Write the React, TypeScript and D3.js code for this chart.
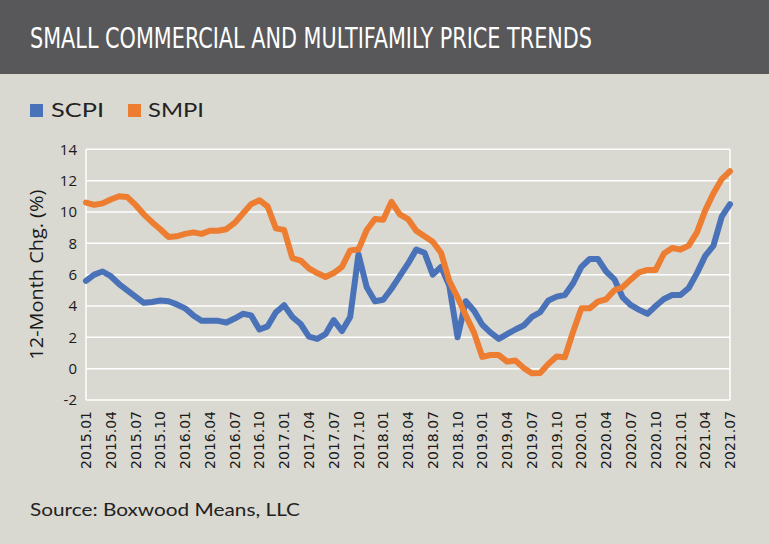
import React from "react";
import * as d3 from "d3";

const startYear = 2015;
const monthCount = 79;
const months: string[] = Array.from({ length: monthCount }, (_, i) => {
  const y = startYear + Math.floor(i / 12);
  const m = (i % 12) + 1;
  return `${y}.${m < 10 ? "0" + m : m}`;
});

const scpi: number[] = [
  5.6, 6.0, 6.2, 5.9, 5.4, 5.0, 4.6, 4.2, 4.25, 4.35, 4.3, 4.1,
  3.85, 3.4, 3.05, 3.05, 3.05, 2.95, 3.2, 3.5, 3.4, 2.5, 2.7, 3.6,
  4.05, 3.3, 2.85, 2.05, 1.9, 2.2, 3.1, 2.4, 3.3, 7.3, 5.2, 4.3,
  4.4, 5.1, 5.9, 6.7, 7.6, 7.4, 6.0, 6.5, 5.3, 2.0, 4.3, 3.7,
  2.8, 2.3, 1.9, 2.2, 2.5, 2.75, 3.3, 3.6, 4.35, 4.6, 4.7, 5.45,
  6.5, 7.0, 7.0, 6.2, 5.7, 4.55, 4.05, 3.75, 3.5, 4.0, 4.45, 4.7,
  4.7, 5.15, 6.1, 7.2, 7.85, 9.7, 10.5,
];

const smpi: number[] = [
  10.6, 10.45, 10.55, 10.8, 11.0, 10.95, 10.45, 9.85, 9.35, 8.9, 8.4, 8.45,
  8.6, 8.7, 8.6, 8.8, 8.8, 8.9, 9.3, 9.9, 10.5, 10.75, 10.35, 8.95,
  8.85, 7.05, 6.9, 6.4, 6.1, 5.85, 6.1, 6.5, 7.55, 7.6, 8.85, 9.55,
  9.5, 10.65, 9.85, 9.55, 8.8, 8.45, 8.1, 7.4, 5.6, 4.55, 3.4, 2.3,
  0.75, 0.87, 0.87, 0.45, 0.52, 0.05, -0.3, -0.28, 0.3, 0.77, 0.73, 2.36,
  3.85, 3.85, 4.28, 4.43, 5.0, 5.2, 5.7, 6.15, 6.3, 6.3, 7.35, 7.7,
  7.6, 7.85, 8.7, 10.1, 11.2, 12.1, 12.6,
];

const yTicks: number[] = [-2, 0, 2, 4, 6, 8, 10, 12, 14];
const seriesNames: string[] = ["SCPI", "SMPI"];
const seriesColors: string[] = ["#4a72b8", "#ed7d31"];

const W = 769;
const H = 544;
const BG = "#d9d8d1";
const HEADER = "#58585a";

export default function App() {
  const x = d3.scaleLinear().domain([0, monthCount - 1]).range([86, 730]);
  const y = d3.scaleLinear().domain([-2, 14]).range([400, 149.3]);
  const line = d3
    .line<number>()
    .x((_, i) => x(i))
    .y((d) => y(d))
    .curve(d3.curveLinear);
  const labelIdx = months.map((_, i) => i).filter((i) => i % 3 === 0);

  return (
    <svg
      width={W}
      height={H}
      style={{ position: "absolute", left: 0, top: 0, display: "block" }}
    >
      <rect x={0} y={0} width={W} height={H} fill={BG} />
      <rect x={0} y={0} width={W} height={74} fill={HEADER} />
      <text
        x={30}
        y={48}
        fill="#ffffff"
        fontFamily="'Liberation Sans Narrow', 'DejaVu Sans Condensed', Roboto, sans-serif"
        fontSize={28}
        textLength={562}
        lengthAdjust="spacingAndGlyphs"
      >
        SMALL COMMERCIAL AND MULTIFAMILY PRICE TRENDS
      </text>

      {/* legend */}
      <rect x={30} y={104} width={13} height={13} fill={seriesColors[0]} />
      <text x={51} y={117} fontFamily="Lato, 'Open Sans', sans-serif" fontSize={20} fill="#222" textLength={53} lengthAdjust="spacingAndGlyphs">
        {seriesNames[0]}
      </text>
      <rect x={128} y={104} width={13} height={13} fill={seriesColors[1]} />
      <text x={148} y={117} fontFamily="Lato, 'Open Sans', sans-serif" fontSize={20} fill="#222" textLength={56} lengthAdjust="spacingAndGlyphs">
        {seriesNames[1]}
      </text>

      {/* gridlines */}
      {yTicks.map((t) => (
        <line
          key={"g" + t}
          x1={86}
          x2={730}
          y1={y(t)}
          y2={y(t)}
          stroke="#ffffff"
          strokeWidth={1.5}
        />
      ))}
      <line x1={86} x2={86} y1={y(14)} y2={y(-2)} stroke="#ffffff" strokeWidth={1.5} />
      <line x1={730} x2={730} y1={y(14)} y2={y(-2)} stroke="#ffffff" strokeWidth={1.5} />

      {/* y tick labels */}
      {yTicks.map((t) => (
        <text
          key={"yl" + t}
          x={77}
          y={y(t)}
          dy="0.35em"
          textAnchor="end"
          fontFamily="'Open Sans', 'Noto Sans', sans-serif"
          fontSize={15}
          fill="#1a1a1a"
        >
          {t}
        </text>
      ))}
      <text
        transform={`translate(43, ${y(6)}) rotate(-90)`}
        textAnchor="middle"
        fontFamily="'Open Sans', 'Noto Sans', sans-serif"
        fontSize={17.5}
        fill="#1a1a1a"
        textLength={170}
        lengthAdjust="spacingAndGlyphs"
      >
        12-Month Chg. (%)
      </text>

      {/* x labels */}
      {labelIdx.map((i) => (
        <text
          key={"xl" + i}
          transform={`translate(${x(i)}, 411) rotate(-90)`}
          textAnchor="end"
          dy="0.36em"
          fontFamily="'DejaVu Sans', sans-serif"
          fontSize={14}
          fill="#1a1a1a"
        >
          {months[i]}
        </text>
      ))}

      {/* lines */}
      {[scpi, smpi].map((s, k) => (
        <path
          key={"s" + k}
          d={line(s) || ""}
          fill="none"
          stroke={seriesColors[k]}
          strokeWidth={6}
          strokeLinejoin="round"
          strokeLinecap="round"
        />
      ))}

      <text
        x={30}
        y={516}
        fontFamily="Lato, 'Open Sans', sans-serif"
        fontSize={18}
        fill="#222"
        textLength={270}
        lengthAdjust="spacingAndGlyphs"
      >
        Source: Boxwood Means, LLC
      </text>
    </svg>
  );
}
